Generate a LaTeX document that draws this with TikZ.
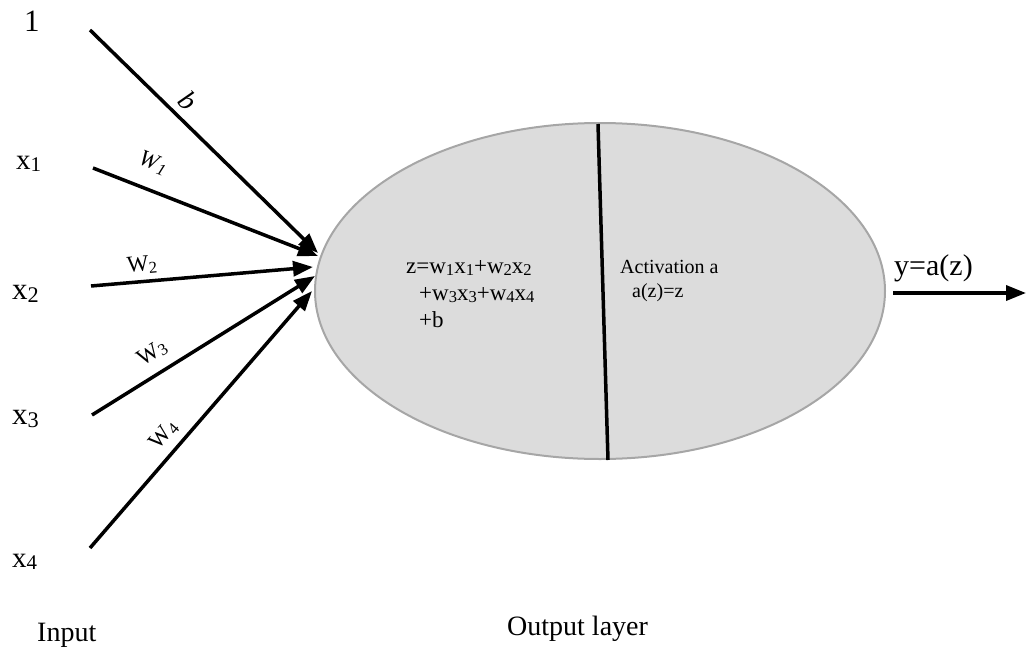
\documentclass[tikz,border=0pt]{standalone}
\usepackage{fontspec}
\usepackage{graphicx}
\setmainfont{Liberation Serif}
\usetikzlibrary{arrows.meta,shapes.geometric}

% small digit sitting slightly below the baseline
\newcommand{\lowdigit}[1]{\raisebox{-0.1em}{\scalebox{0.72}{#1}}}
\newcommand{\fs}[1]{\fontsize{#1}{#1}\selectfont}

\definecolor{cellfill}{HTML}{DCDCDC}
\definecolor{celledge}{HTML}{A6A6A6}

\begin{document}
\begin{tikzpicture}[x=1pt,y=-1pt,
  wire/.style={line width=3.5pt,-{Triangle[length=20pt,width=15pt]}},
  txt/.style={inner sep=0pt,anchor=base west},
  wlabel/.style={inner sep=0pt,font=\fs{23}}]

\useasboundingbox (0,0) rectangle (1026,648);

% the neuron body
\node[ellipse,draw=celledge,line width=2pt,fill=cellfill,
      minimum width=570,minimum height=336,inner sep=0pt] (cell) at (600,291) {};
\coordinate (divtop) at (598,124);
\coordinate (divbot) at (608,460);
\draw[line width=3.5pt] (divtop) -- (divbot);

% inputs
\node[txt,font=\fs{31}] (one) at (24,31) {1};
\node[txt,font=\fs{29}] (x1) at (16,169) {x\lowdigit{1}};
\node[txt,font=\fs{31}] (x2) at (12,299) {x\lowdigit{2}};
\node[txt,font=\fs{31}] (x3) at (12,424) {x\lowdigit{3}};
\node[txt,font=\fs{29}] (x4) at (12,567) {x\lowdigit{4}};

% start and end points of the weighted connections
\coordinate (s0) at (90,30);
\coordinate (s1) at (93,168);
\coordinate (s2) at (91,286);
\coordinate (s3) at (92,415);
\coordinate (s4) at (90,548);
\coordinate (t0) at (318,253);
\coordinate (t1) at (318,256);
\coordinate (t2) at (313,267);
\coordinate (t3) at (315,276);
\coordinate (t4) at (312,291);

\draw[wire] (s0) -- (t0);
\draw[wire] (s1) -- (t1);
\draw[wire] (s2) -- (t2);
\draw[wire] (s3) -- (t3);
\draw[wire] (s4) -- (t4);

% weights
\node[wlabel,font=\fs{28},rotate=-45] (lb) at (188,101) {\textit{b}};
\node[wlabel,rotate=-22] (lw1) at (153,163) {\textit{W\kern0.05em\lowdigit{1}}};
\node[wlabel,rotate=5]   (lw2) at (142,265) {W\lowdigit{2}};
\node[wlabel,rotate=32]  (lw3) at (152,353) {W\lowdigit{3}};
\node[wlabel,rotate=49]  (lw4) at (164,435) {W\lowdigit{4}};

% contents of the neuron
\node[txt,font=\fs{23}] (sum1) at (406,273) {z=w\lowdigit{1}x\lowdigit{1}+w\lowdigit{2}x\lowdigit{2}};
\node[txt,font=\fs{23}] (sum2) at (419,300) {+w\lowdigit{3}x\lowdigit{3}+w\lowdigit{4}x\lowdigit{4}};
\node[txt,font=\fs{23}] (sum3) at (419,327) {+b};
\node[txt,font=\fs{20}] (act1) at (620,273) {Activation a};
\node[txt,font=\fs{20}] (act2) at (632,297) {a(z)=z};

% output
\node[txt,font=\fs{30}] (yout) at (894,275) {y=a(z)};
\coordinate (o0) at (893,293);
\coordinate (o1) at (1026,293);
\draw[wire] (o0) -- (o1);

% layer captions
\node[txt,font=\fs{28}] (capin) at (37,641) {Input};
\node[txt,font=\fs{28}] (capout) at (507,635) {Output layer};
\end{tikzpicture}
\end{document}
